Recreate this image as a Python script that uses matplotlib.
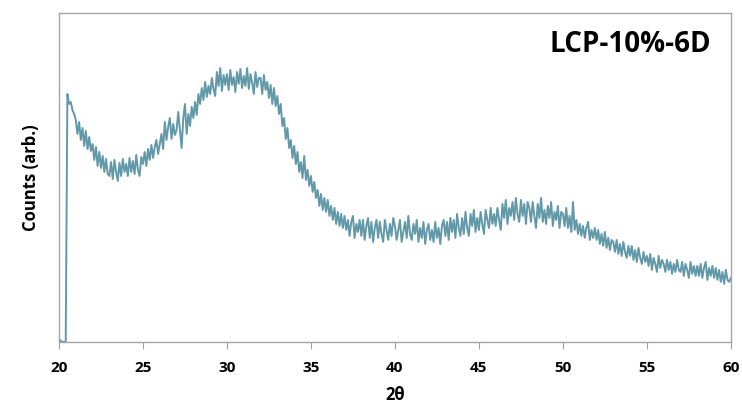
import numpy as np
import matplotlib.pyplot as plt

# 2-theta grid, 0.1 deg steps from 20.0 to 60.0
two_theta = np.round(np.arange(200, 601) * 0.1, 1)

# counts (arb.), one row per degree
counts = [
    3, 1, 0, 0, 0, 248, 238, 240, 232, 228,
    222, 208, 220, 202, 214, 196, 211, 193, 205, 191,
    198, 182, 195, 176, 190, 174, 186, 170, 183, 168,
    166, 180, 163, 182, 170, 161, 179, 166, 183, 170,
    178, 166, 184, 170, 181, 168, 187, 172, 166, 185,
    178, 190, 176, 193, 182, 197, 184, 195, 202, 188,
    198, 208, 193, 220, 202, 215, 224, 203, 218, 207,
    212, 230, 212, 194, 224, 238, 208, 228, 216, 235,
    224, 240, 227, 248, 238, 254, 242, 260, 245, 256,
    248, 264, 253, 246, 270, 256, 274, 251, 267, 257,
    268, 252, 272, 257, 265, 250, 270, 258, 273, 254,
    266, 256, 274, 253, 268, 259, 248, 270, 255, 264,
    264, 248, 267, 252, 260, 244, 257, 238, 254, 236,
    246, 228, 238, 216, 224, 203, 214, 194, 202, 184,
    196, 178, 190, 170, 180, 164, 186, 162, 172, 156,
    166, 150, 160, 144, 152, 136, 148, 132, 144, 130,
    142, 126, 136, 122, 134, 118, 130, 116, 128, 114,
    126, 112, 122, 106, 120, 126, 104, 118, 110, 122,
    106, 122, 102, 116, 124, 104, 120, 100, 114, 122,
    104, 120, 108, 100, 122, 112, 102, 118, 106, 124,
    116, 102, 112, 122, 100, 110, 120, 104, 126, 108,
    102, 118, 108, 122, 100, 114, 104, 120, 98, 112,
    118, 102, 112, 100, 120, 104, 114, 98, 116, 122,
    106, 120, 102, 124, 110, 122, 104, 128, 114, 106,
    124, 108, 130, 114, 106, 128, 116, 132, 110, 124,
    112, 130, 118, 108, 132, 122, 114, 134, 118, 128,
    116, 134, 122, 112, 138, 124, 142, 118, 134, 126,
    140, 122, 144, 128, 120, 142, 126, 138, 118, 140,
    134, 120, 140, 126, 114, 138, 124, 144, 120, 132,
    118, 136, 124, 140, 116, 130, 122, 136, 114, 130,
    128, 116, 134, 114, 126, 110, 140, 112, 122, 108,
    118, 106, 116, 104, 114, 120, 102, 112, 104, 114,
    102, 112, 98, 108, 96, 110, 94, 104, 92, 102,
    100, 90, 102, 88, 98, 86, 100, 90, 84, 96,
    86, 96, 82, 92, 80, 94, 84, 78, 90, 80,
    86, 76, 88, 72, 84, 78, 70, 86, 74, 82,
    78, 70, 82, 72, 80, 68, 78, 70, 82, 72,
    70, 80, 66, 78, 72, 64, 80, 68, 76, 66,
    76, 66, 78, 64, 74, 80, 62, 74, 66, 76,
    64, 74, 62, 72, 60, 70, 58, 72, 62, 60,
    64,
]

x_ticks = [20, 25, 30, 35, 40, 45, 50, 55, 60]
sample_label = 'LCP-10%-6D'

plt.rcParams['font.family'] = ['Open Sans', 'DejaVu Sans']

fig = plt.figure(figsize=(7.42, 4.07), dpi=100)
ax = fig.add_axes([0.0795, 0.160, 0.9055, 0.808])

ax.plot(two_theta, counts, color='#6299a8', lw=1.4)

ax.set_xlim(20, 60)
ax.set_ylim(0, 329)
ax.set_xticks(x_ticks)
ax.set_xticklabels([str(t) for t in x_ticks], fontsize=11, fontweight='bold')
ax.set_yticks([])
ax.tick_params(axis='x', direction='out', length=5, color='#a0a0a0', pad=9)

for s in ax.spines.values():
    s.set_color('#a6a6a6')
    s.set_linewidth(1.0)

ax.set_xlabel('2θ', fontsize=12, fontweight='bold', labelpad=8)
ax.set_ylabel('Counts (arb.)', fontsize=12, fontweight='bold', labelpad=14)

ax.text(0.97, 0.905, sample_label, transform=ax.transAxes, ha='right', va='center',
        fontsize=20, fontweight='bold')

fig.savefig('out.png', dpi=100)
